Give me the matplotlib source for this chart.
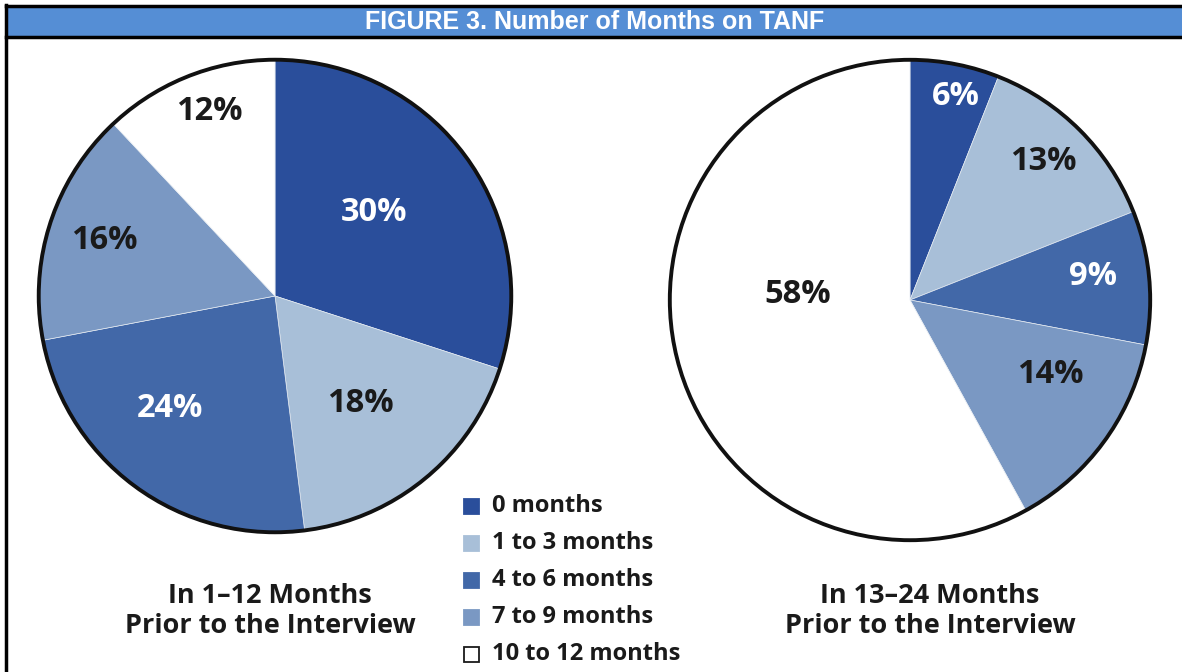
import matplotlib.pyplot as plt
import numpy as np
from matplotlib.patches import Rectangle, Circle

categories = ['0 months', '1 to 3 months', '4 to 6 months', '7 to 9 months', '10 to 12 months']
recent_pct = [30, 18, 24, 16, 12]          # In 1-12 months prior to interview
earlier_pct = [6, 13, 9, 14, 58]           # In 13-24 months prior to interview
pie_titles = ['In 1\u201312 Months\nPrior to the Interview',
              'In 13\u201324 Months\nPrior to the Interview']
header = 'FIGURE 3. Number of Months on TANF'

colors = ['#2A4E9B', '#A8BFD8', '#4268A8', '#7A98C3', '#FFFFFF']
label_colors = ['white', '#1a1a1a', 'white', '#1a1a1a', '#1a1a1a']
# radial distance of each % label (fraction of radius) and angle tweak (deg)
recent_lbl = [(0.55, 4), (0.58, -1), (0.65, -7), (0.76, 0), (0.83, -2)]
earlier_lbl = [(0.87, -2), (0.80, 1), (0.77, 2), (0.66, 8), (0.47, -17)]

W, H = 1182, 672
fig = plt.figure(figsize=(W / 100, H / 100), dpi=100)
fig.patch.set_facecolor('white')
font = 'Open Sans'

# header bar and frame
bg = fig.add_axes([0, 0, 1, 1])
bg.set_xlim(0, W)
bg.set_ylim(H, 0)
bg.axis('off')
bg.add_patch(Rectangle((6, 6), W, 30, facecolor='#558ED5', edgecolor='none'))
bg.plot([6, W], [5.5, 5.5], color='black', lw=2.5)
bg.plot([6, W], [37, 37], color='black', lw=2.5)
bg.plot([5.5, 5.5], [5, H], color='black', lw=2.5)
bg.text(595, 22, header, color='white', fontsize=18, fontweight='bold',
        family='Liberation Sans', ha='center', va='center')


def draw_pie(cx, cy, r, values, lbls):
    ax = fig.add_axes([(cx - r) / W, 1 - (cy + r) / H, 2 * r / W, 2 * r / H])
    wedges, _ = ax.pie(values, colors=colors, startangle=90, counterclock=False,
                       wedgeprops=dict(linewidth=0.5, edgecolor='#e4eaf1'))
    ax.add_patch(Circle((0, 0), 1, fill=False, edgecolor='#111111', lw=2.8))
    for w, v, (frac, shift), c in zip(wedges, values, lbls, label_colors):
        ang = np.deg2rad((w.theta1 + w.theta2) / 2 + shift)
        ax.text(frac * np.cos(ang), frac * np.sin(ang), f'{v}%', color=c,
                fontsize=23.5, fontweight='bold', family=font,
                ha='center', va='center')
    ax.set_xlim(-1.02, 1.02)
    ax.set_ylim(-1.02, 1.02)
    ax.set_aspect('equal')
    ax.axis('off')
    return ax


draw_pie(275, 296, 241, recent_pct, recent_lbl)
draw_pie(910, 300, 245, earlier_pct, earlier_lbl)

bg.text(270, 611, pie_titles[0], fontsize=19.5, fontweight='bold', family=font,
        color='#1a1a1a', ha='center', va='center', linespacing=1.22)
bg.text(930, 611, pie_titles[1], fontsize=19.5, fontweight='bold', family=font,
        color='#1a1a1a', ha='center', va='center', linespacing=1.22)

# legend
for i, (cat, col) in enumerate(zip(categories, colors)):
    y = 506 + i * 37
    bg.add_patch(Rectangle((464, y - 7.5), 15, 15, facecolor=col,
                           edgecolor='#1a1a1a' if col == '#FFFFFF' else col, lw=1.3))
    bg.text(492, y, cat, fontsize=17, fontweight='bold', family=font,
            color='#1a1a1a', ha='left', va='center')

fig.savefig('out.png', dpi=100, facecolor='white')
